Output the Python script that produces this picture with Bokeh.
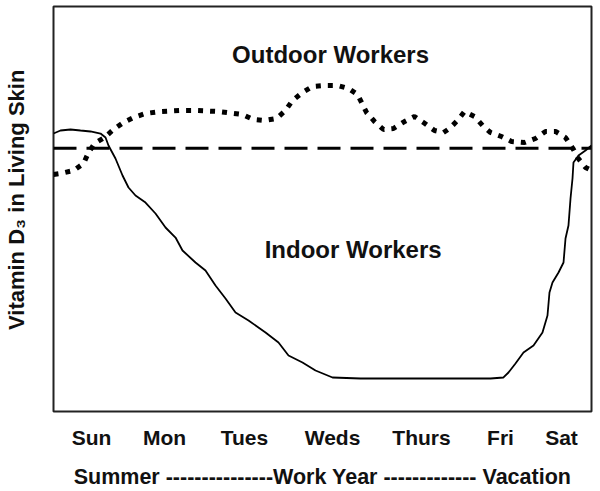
from bokeh.plotting import figure
from bokeh.models import Range1d, FixedTicker, Span, Label
from bokeh.embed import file_html
from bokeh.resources import INLINE

# ---- data (x: position through the week, 0-100; y: relative vitamin D3 level, 0-100)
days = ["Sun", "Mon", "Tues", "Weds", "Thurs", "Fri", "Sat"]
day_pos = [7.06, 20.63, 35.50, 51.86, 68.40, 83.09, 94.42]

baseline_level = 65.0

outdoor_x = [0, 1.30, 3.72, 5.58, 6.51, 7.62, 9.48, 11.15, 13.01, 14.87, 17.10, 19.89,
             23.61, 26.39, 30.67, 35.13, 37.17, 39.22, 41.45, 43.12, 44.42, 46.28, 48.14,
             50.37, 52.79, 54.83, 56.51, 57.25, 58.18, 59.67, 61.34, 63.20, 65.24, 67.10,
             68.77, 70.82, 72.49, 73.61, 75.09, 76.39, 78.25, 79.93, 81.23, 83.27, 85.13,
             87.55, 89.59, 91.45, 93.31, 95.17, 96.65, 97.40, 98.88, 100]
outdoor_y = [58.52, 58.77, 59.51, 61.23, 63.95, 66.17, 67.65, 69.63, 71.36, 72.59, 73.58,
             74.07, 74.32, 74.32, 74.07, 73.33, 72.10, 71.85, 72.35, 74.32, 76.79, 78.77,
             80.25, 80.49, 80.49, 79.75, 78.27, 76.30, 73.83, 71.60, 69.63, 69.88, 71.60,
             72.84, 71.36, 69.38, 68.89, 69.88, 71.85, 74.07, 72.84, 70.37, 68.89, 67.90,
             66.67, 66.42, 67.41, 69.14, 69.14, 67.65, 64.69, 62.72, 60.25, 59.51]

indoor_x = [0, 1.30, 3.16, 5.02, 6.88, 8.74, 9.67, 10.22, 11.52, 12.83, 13.94, 15.24, 17.10,
            18.96, 20.82, 22.68, 23.98, 26.39, 28.25, 30.11, 31.97, 33.83, 36.25, 39.41,
            41.82, 43.68, 46.28, 48.70, 51.86, 57.06, 64.50, 73.79, 81.23, 83.64, 84.57,
            85.87, 87.36, 89.22, 90.89, 91.82, 92.19, 92.75, 93.87, 94.80, 95.17, 95.72,
            96.10, 96.47, 96.65, 97.58, 98.88, 100]
indoor_y = [68.64, 69.38, 69.63, 69.38, 69.14, 68.64, 67.65, 65.68, 62.47, 58.27, 55.31,
            53.33, 51.60, 48.89, 45.43, 42.96, 39.75, 36.79, 34.81, 31.11, 27.90, 24.44,
            22.47, 19.51, 17.04, 13.83, 12.10, 10.12, 8.40, 8.15, 8.15, 8.15, 8.15, 8.40,
            9.63, 11.85, 14.57, 16.30, 19.51, 23.70, 29.38, 31.85, 34.32, 36.79, 42.72,
            45.93, 52.59, 57.53, 61.48, 63.21, 64.44, 65.68]

outdoor_label = "Outdoor Workers"
indoor_label = "Indoor Workers"
y_title = "\u00a0\u00a0\u00a0Vitamin D\u2083 in Living Skin"
x_title = "Summer " + "-" * 15 + "Work Year " + "-" * 13 + " Vacation"

FONT = "Liberation Sans"

p = figure(width=600, height=491, output_backend="svg", toolbar_location=None,
           x_range=Range1d(0, 100), y_range=Range1d(0, 100),
           min_border_left=53, min_border_right=9, min_border_top=6, min_border_bottom=80)
p.grid.visible = False
p.outline_line_color = "#222222"
p.outline_line_width = 2
p.background_fill_color = "white"
p.border_fill_color = "white"

p.add_layout(Span(location=baseline_level, dimension="width", line_color="black",
                  line_width=3, line_dash="23 10"))
p.line(outdoor_x, outdoor_y, line_color="black", line_width=5, line_dash="5 7",
       line_cap="butt")
p.line(indoor_x, indoor_y, line_color="black", line_width=1.8)

p.add_layout(Label(x=51.5, y=88.1, text=outdoor_label, text_align="center",
                   text_baseline="middle", text_font=FONT, text_font_style="bold",
                   text_font_size="24px", text_color="#111111"))
p.add_layout(Label(x=55.7, y=40.0, text=indoor_label, text_align="center",
                   text_baseline="middle", text_font=FONT, text_font_style="bold",
                   text_font_size="24px", text_color="#111111"))

ax = p.xaxis[0]
ax.ticker = FixedTicker(ticks=day_pos)
ax.major_label_overrides = {pos: d for pos, d in zip(day_pos, days)}
ax.axis_line_color = None
ax.major_tick_line_color = None
ax.minor_tick_line_color = None
ax.major_tick_out = 0
ax.major_tick_in = 0
ax.major_label_standoff = 14
ax.major_label_text_font = FONT
ax.major_label_text_font_style = "bold"
ax.major_label_text_font_size = "21px"
ax.major_label_text_color = "#111111"
ax.axis_label = x_title
ax.axis_label_standoff = 13
ax.axis_label_text_font = FONT
ax.axis_label_text_font_style = "bold"
ax.axis_label_text_font_size = "21.5px"
ax.axis_label_text_color = "#111111"

ay = p.yaxis[0]
ay.ticker = FixedTicker(ticks=[])
ay.axis_line_color = None
ay.major_tick_line_color = None
ay.minor_tick_line_color = None
ay.major_tick_out = 0
ay.major_tick_in = 0
ay.axis_label = y_title
ay.axis_label_standoff = 25
ay.axis_label_text_font = FONT
ay.axis_label_text_font_style = "bold"
ay.axis_label_text_font_size = "22px"
ay.axis_label_text_color = "#111111"

open("out.html", "w").write(file_html(p, INLINE))
